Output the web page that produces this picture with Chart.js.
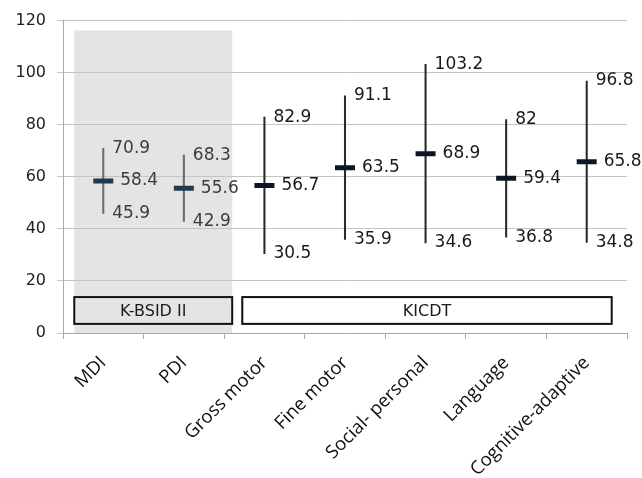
<!DOCTYPE html>
<html>
<head>
<meta charset="utf-8">
<script src="https://cdn.jsdelivr.net/npm/chart.js@4.4.1/dist/chart.umd.min.js"></script>
<style>
  html, body { margin: 0; padding: 0; background: #ffffff; }
  #wrap { width: 642px; height: 478px; }
</style>
</head>
<body>
<div id="wrap"><canvas id="chart"></canvas></div>
<script>
// Developmental scores: range (low–high) and mean per subscale
const categories = ['MDI', 'PDI', 'Gross motor', 'Fine motor', 'Social- personal', 'Language', 'Cognitive-adaptive'];
const highValues = [70.9, 68.3, 82.9, 91.1, 103.2, 82, 96.8];
const meanValues = [58.4, 55.6, 56.7, 63.5, 68.9, 59.4, 65.8];
const lowValues  = [45.9, 42.9, 30.5, 35.9, 34.6, 36.8, 34.8];
const yTickValues = [0, 20, 40, 60, 80, 100, 120];

// Instrument groups (first and last category index of each)
const groupLabels = ['K-BSID II', 'KICDT'];
const groupFirst = [0, 2];
const groupLast  = [1, 6];

const FONT = 'DejaVu Sans';
const CAT_FONT = 'Open Sans';
const isBsid = i => i <= groupLast[0];

const whiskerColors = categories.map((c, i) => isBsid(i) ? '#6a6a6a' : '#2a2a2a');
const meanColors = categories.map((c, i) => isBsid(i) ? '#1f3a4f' : '#0b1626');
const labelColors = categories.map((c, i) => isBsid(i) ? '#3c3c3c' : '#1a1a1a');

// Shaded band behind the K-BSID II columns (painted before the grid)
const bandPlugin = {
  id: 'band',
  beforeDraw(chart) {
    const { ctx, scales: { x, y } } = chart;
    const step = x.getPixelForValue(1) - x.getPixelForValue(0);
    const left = x.getPixelForValue(groupFirst[0]) - 0.36 * step;
    const right = x.getPixelForValue(groupLast[0]) + 0.6 * step;
    const top = y.getPixelForValue(116.2);
    const bottom = y.getPixelForValue(0);
    ctx.save();
    ctx.fillStyle = '#e4e4e4';
    ctx.fillRect(left, top, right - left, bottom - top);
    ctx.restore();
  }
};

// Value labels beside each range line, and the group name boxes
const annotatePlugin = {
  id: 'annotate',
  afterDatasetsDraw(chart) {
    const { ctx, scales: { x, y } } = chart;
    const step = x.getPixelForValue(1) - x.getPixelForValue(0);
    ctx.save();
    ctx.font = '17px "' + FONT + '"';
    ctx.textAlign = 'left';
    ctx.textBaseline = 'middle';
    categories.forEach((c, i) => {
      const px = x.getPixelForValue(i);
      ctx.fillStyle = labelColors[i];
      ctx.fillText(String(highValues[i]), px + 9, y.getPixelForValue(highValues[i]));
      ctx.fillText(String(meanValues[i]), px + 17, y.getPixelForValue(meanValues[i]));
      ctx.fillText(String(lowValues[i]), px + 9, y.getPixelForValue(lowValues[i]));
    });

    const boxTop = y.getPixelForValue(13.8);
    const boxBottom = y.getPixelForValue(3.5);
    const edges = [
      [-0.36, 0.6],
      [-0.275, 0.31]
    ];
    groupLabels.forEach((g, k) => {
      const l = x.getPixelForValue(groupFirst[k]) + edges[k][0] * step;
      const r = x.getPixelForValue(groupLast[k]) + edges[k][1] * step;
      ctx.fillStyle = k === 0 ? '#e4e4e4' : '#ffffff';
      ctx.fillRect(l, boxTop, r - l, boxBottom - boxTop);
      ctx.strokeStyle = '#111111';
      ctx.lineWidth = 2;
      ctx.strokeRect(l, boxTop, r - l, boxBottom - boxTop);
      ctx.fillStyle = '#1a1a1a';
      ctx.font = '16px "' + FONT + '"';
      ctx.textAlign = 'center';
      ctx.fillText(g, (l + r) / 2, (boxTop + boxBottom) / 2 + 1);
    });
    ctx.restore();
  }
};

new Chart(document.getElementById('chart'), {
  type: 'bar',
  data: {
    labels: categories,
    datasets: [
      {
        type: 'bar',
        label: 'Range',
        data: categories.map((c, i) => [lowValues[i], highValues[i]]),
        backgroundColor: whiskerColors,
        borderWidth: 0,
        barThickness: 1.4,
        order: 2
      },
      {
        type: 'line',
        label: 'Mean',
        data: meanValues,
        showLine: false,
        pointStyle: 'line',
        pointRadius: 10,
        pointHoverRadius: 10,
        pointBorderWidth: 5,
        pointHoverBorderWidth: 5,
        pointBorderColor: meanColors,
        pointBackgroundColor: meanColors,
        order: 1
      }
    ]
  },
  options: {
    responsive: true,
    maintainAspectRatio: false,
    animation: false,
    events: [],
    layout: { padding: { top: 20, right: 15, left: 0, bottom: 0 } },
    plugins: {
      legend: { display: false },
      tooltip: { enabled: false }
    },
    scales: {
      x: {
        type: 'category',
        offset: true,
        grid: {
          offset: true,
          drawOnChartArea: false,
          drawTicks: true,
          tickLength: 6,
          color: '#a8a8a8'
        },
        border: { color: '#a8a8a8', width: 1 },
        ticks: {
          minRotation: 45,
          maxRotation: 45,
          autoSkip: false,
          padding: 13,
          color: '#111111',
          font: { family: CAT_FONT, size: 18.5 }
        },
        afterFit(scale) { scale.height = 145; }
      },
      y: {
        min: 0,
        max: 120,
        afterBuildTicks(scale) { scale.ticks = yTickValues.map(v => ({ value: v })); },
        grid: {
          color: '#c4c4c4',
          tickLength: 6
        },
        border: { color: '#a8a8a8', width: 1 },
        ticks: {
          padding: 11,
          color: '#222222',
          font: { family: FONT, size: 16 }
        },
        afterFit(scale) { scale.width = 63; }
      }
    }
  },
  plugins: [bandPlugin, annotatePlugin]
});
</script>
</body>
</html>
